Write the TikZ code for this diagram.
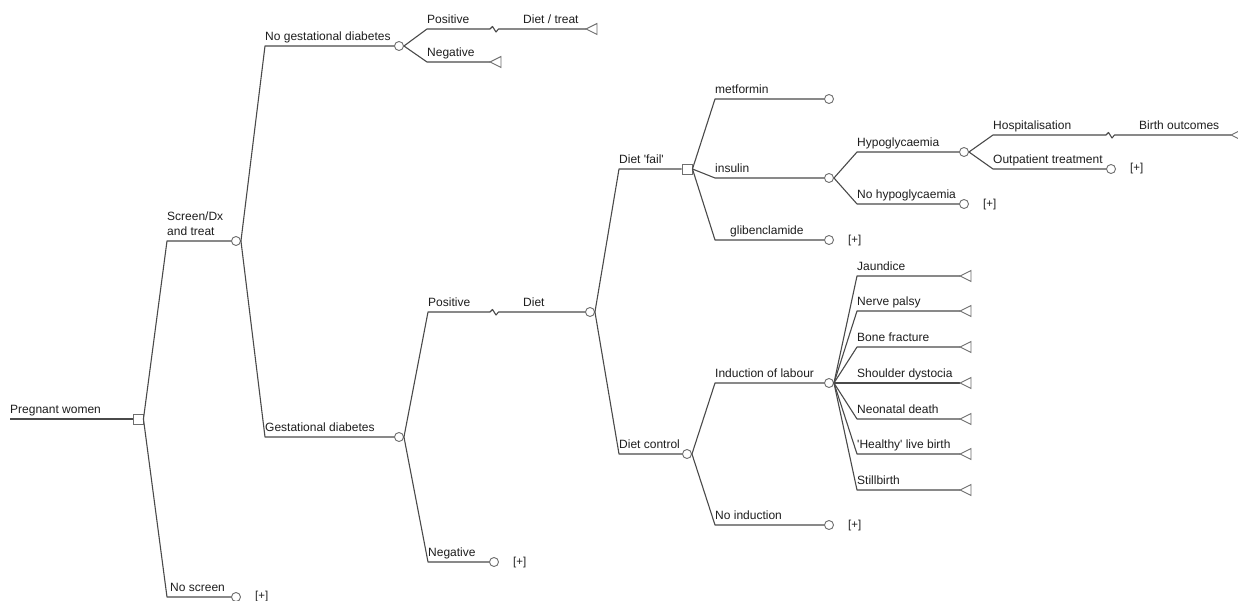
\documentclass[tikz,border=0pt]{standalone}
\usepackage{fontspec}
\setmainfont{Liberation Sans}
\definecolor{lc}{HTML}{4A4A4A}
\definecolor{nc}{HTML}{6E6E6E}
\definecolor{tc}{HTML}{1E1E1E}
\tikzset{
  br/.style={draw=lc, line width=1.1pt, line join=round},
  chance/.style={circle, draw=nc, fill=white, line width=0.9pt, minimum size=9pt, inner sep=0pt},
  decis/.style={rectangle, draw=nc, fill=white, line width=0.9pt, minimum size=10pt, inner sep=0pt},
  term/.style={draw=nc, fill=white, line width=0.9pt, line join=miter},
  lbl/.style={anchor=base west, inner sep=0pt, text=tc, font=\fontsize{12}{15}\selectfont},
  plus/.style={anchor=west, inner sep=0pt, text=tc, font=\fontsize{11.5}{13}\selectfont},
}
\begin{document}
\begin{tikzpicture}[x=1pt,y=-1pt]
\useasboundingbox (0,0) rectangle (1238,601);
\fill[white] (0,0) rectangle (1238,601);

% ---------- nodes ----------
\coordinate (s0) at (10,419);
\node[decis] (d0) at (138,419) {};
\coordinate (b1) at (167,241);  \node[chance] (c1) at (236,241) {};
\coordinate (b2) at (167,597);  \node[chance] (c2) at (236,597) {};
\coordinate (b3) at (265,46);   \node[chance] (c3) at (399,46) {};
\coordinate (b4) at (265,437);  \node[chance] (c4) at (399,437) {};
\coordinate (b5) at (427,29);   \coordinate (t5) at (586,29);
\coordinate (b6) at (427,62);   \coordinate (t6) at (490,62);
\coordinate (b7) at (428,312);  \node[chance] (c7) at (590,312) {};
\coordinate (b8) at (428,562);  \node[chance] (c8) at (494,562) {};
\coordinate (b9) at (619,169);  \node[decis] (d9) at (687,169) {};
\coordinate (b10) at (619,454); \node[chance] (c10) at (687,454) {};
\coordinate (b11) at (715,99);  \node[chance] (c11) at (829,99) {};
\coordinate (b12) at (715,178); \node[chance] (c12) at (829,178) {};
\coordinate (b13) at (715,240); \node[chance] (c13) at (829,240) {};
\coordinate (b14) at (857,152); \node[chance] (c14) at (964,152) {};
\coordinate (b15) at (857,204); \node[chance] (c15) at (964,204) {};
\coordinate (b16) at (993,135); \coordinate (t16) at (1231,135);
\coordinate (b17) at (993,169); \node[chance] (c17) at (1111,169) {};
\coordinate (b18) at (715,383); \node[chance] (c18) at (829,383) {};
\coordinate (b19) at (715,525); \node[chance] (c19) at (829,525) {};
\foreach \n/\y in {20/276,21/311,22/347,23/383,24/419,25/454,26/490}{
  \coordinate (b\n) at (857,\y);
  \coordinate (t\n) at (960,\y);
}

% ---------- branches ----------
\draw[br] (s0) -- (d0.west);
\draw[br] (d0.east) -- (b1) -- (c1.west);
\draw[br] (d0.east) -- (b2) -- (c2.west);
\draw[br] (c1.east) -- (b3) -- (c3.west);
\draw[br] (c1.east) -- (b4) -- (c4.west);
\draw[br] (c3.east) -- (b5) -- (490,29) -- ++(2.5,-2.5) -- ++(3.5,5.5) -- ++(2.5,-3) -- (t5);
\draw[br] (c3.east) -- (b6) -- (t6);
\draw[br] (c4.east) -- (b7) -- (490,312) -- ++(2.5,-2.5) -- ++(3.5,5.5) -- ++(2.5,-3) -- (c7.west);
\draw[br] (c4.east) -- (b8) -- (c8.west);
\draw[br] (c7.east) -- (b9) -- (d9.west);
\draw[br] (c7.east) -- (b10) -- (c10.west);
\draw[br] (d9.east) -- (b11) -- (c11.west);
\draw[br] (d9.east) -- (b12) -- (c12.west);
\draw[br] (d9.east) -- (b13) -- (c13.west);
\draw[br] (c12.east) -- (b14) -- (c14.west);
\draw[br] (c12.east) -- (b15) -- (c15.west);
\draw[br] (c14.east) -- (b16) -- (1106,135) -- ++(2.5,-2.5) -- ++(3.5,5.5) -- ++(2.5,-3) -- (t16);
\draw[br] (c14.east) -- (b17) -- (c17.west);
\draw[br] (c10.east) -- (b18) -- (c18.west);
\draw[br] (c10.east) -- (b19) -- (c19.west);
\foreach \n in {20,...,26}{
  \draw[br] (c18.east) -- (b\n) -- (t\n);
}

% ---------- terminal triangles ----------
\foreach \t in {t5,t6,t16,t20,t21,t22,t23,t24,t25,t26}{
  \draw[term] (\t) -- ++(11,-5.5) -- ++(0,11) -- cycle;
}

% ---------- labels ----------
\node[lbl] (l0) at (10,413.5) {Pregnant women};
\node[lbl, align=left] (l1) at (167,235.5) {Screen/Dx\\and treat};
\node[lbl] (l2) at (170,591.5) {No screen};
\node[plus] (p2) at (255,597) {[+]};
\node[lbl] (l3) at (265,40.5) {No gestational diabetes};
\node[lbl] (l4) at (265,431.5) {Gestational diabetes};
\node[lbl] (l5) at (427,23.5) {Positive};
\node[lbl] (l5b) at (523,23.5) {Diet / treat};
\node[lbl] (l6) at (427,56.5) {Negative};
\node[lbl] (l7) at (428,306.5) {Positive};
\node[lbl] (l7b) at (523,306.5) {Diet};
\node[lbl] (l8) at (428,556.5) {Negative};
\node[plus] (p8) at (513,563) {[+]};
\node[lbl] (l9) at (619,163.5) {Diet \textquotesingle fail\textquotesingle};
\node[lbl] (l10) at (619,448.5) {Diet control};
\node[lbl] (l11) at (715,93.5) {metformin};
\node[lbl] (l12) at (715,172.5) {insulin};
\node[lbl] (l13) at (730,234.5) {glibenclamide};
\node[plus] (p13) at (848,241) {[+]};
\node[lbl] (l14) at (857,146.5) {Hypoglycaemia};
\node[lbl] (l15) at (857,198.5) {No hypoglycaemia};
\node[plus] (p15) at (983,205) {[+]};
\node[lbl] (l16) at (993,129.5) {Hospitalisation};
\node[lbl] (l16b) at (1139,129.5) {Birth outcomes};
\node[lbl] (l17) at (993,163.5) {Outpatient treatment};
\node[plus] (p17) at (1130,169) {[+]};
\node[lbl] (l18) at (715,377.5) {Induction of labour};
\node[lbl] (l19) at (715,519.5) {No induction};
\node[plus] (p19) at (848,526) {[+]};
\node[lbl] (l20) at (857,270.5) {Jaundice};
\node[lbl] (l21) at (857,305.5) {Nerve palsy};
\node[lbl] (l22) at (857,341.5) {Bone fracture};
\node[lbl] (l23) at (857,377.5) {Shoulder dystocia};
\node[lbl] (l24) at (857,413.5) {Neonatal death};
\node[lbl] (l25) at (857,448.5) {\textquotesingle Healthy\textquotesingle{} live birth};
\node[lbl] (l26) at (857,484.5) {Stillbirth};
\end{tikzpicture}
\end{document}
